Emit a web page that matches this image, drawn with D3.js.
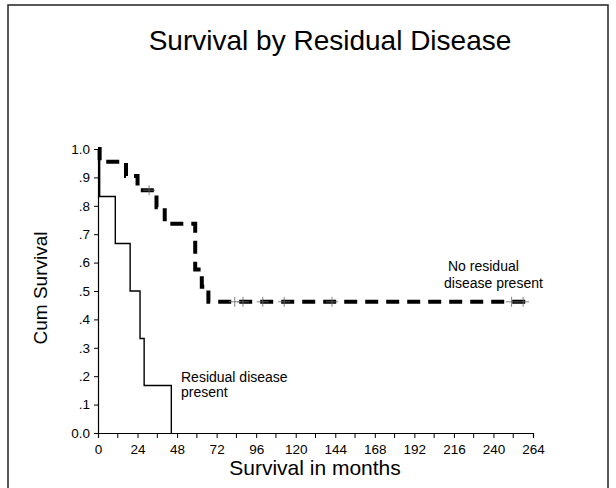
<html>
  <head>
    <script src="https://cdn.jsdelivr.net/npm/d3@7"></script>
    <style>
      * {
        margin: 0;
        padding: 0;
      }
      body {
        background: white;
        font-family: "Liberation Sans", Arial, sans-serif;
      }
      .tick-label {
        font-size: 13.5px;
      }
    </style>
  </head>
  <body>
    <div id="chart"></div>
    <script>
      // data
      const title = "Survival by Residual Disease";
      const xTitle = "Survival in months";
      const yTitle = "Cum Survival";

      const xMajorTicks = [0, 24, 48, 72, 96, 120, 144, 168, 192, 216, 240, 264];
      const xMinorTicks = [12, 36, 60, 84, 108, 132, 156, 180, 204, 228, 252];
      const yTicks = [0, 0.1, 0.2, 0.3, 0.4, 0.5, 0.6, 0.7, 0.8, 0.9, 1.0];
      const yTickLabels = ["0.0", ".1", ".2", ".3", ".4", ".5", ".6", ".7", ".8", ".9", "1.0"];

      // residual disease present (thin solid)
      const residualTimes = [0, 1, 10.5, 19.5, 25.5, 28, 44.5];
      const residualSurv = [1, 0.833, 0.667, 0.5, 0.333, 0.167, 0];
      const residualEnd = 44.5;

      // no residual disease (thick dashed)
      const noResTimes = [0, 1, 17, 24, 35.5, 40.5, 59, 63, 67];
      const noResSurv = [1, 0.955, 0.905, 0.855, 0.795, 0.737, 0.576, 0.515, 0.462];
      const noResEnd = 262;
      const noResCensored = [31, 83, 88, 100, 113, 142, 251, 258];

      const w = 616;
      const h = 488;

      const svg = d3
        .select("#chart")
        .append("svg")
        .attr("width", w)
        .attr("height", h);

      svg
        .append("rect")
        .attr("width", w)
        .attr("height", h)
        .attr("fill", "white");

      // outer frame (bottom edge falls outside the picture)
      svg
        .append("rect")
        .attr("x", 8)
        .attr("y", 5)
        .attr("width", 600)
        .attr("height", 500)
        .attr("fill", "none")
        .attr("stroke", "#222")
        .attr("stroke-width", 1.5);

      const xScale = d3.scaleLinear().domain([0, 264]).range([98, 533]);
      const yScale = d3.scaleLinear().domain([0, 1]).range([433, 149]);

      svg
        .append("text")
        .attr("x", 330)
        .attr("y", 50)
        .attr("text-anchor", "middle")
        .attr("font-size", 28)
        .text(title);

      // x axis
      const xAxis = d3
        .axisBottom(xScale)
        .tickValues(xMajorTicks)
        .tickSize(5)
        .tickPadding(6)
        .tickFormat(d3.format("d"));
      const gx = svg
        .append("g")
        .attr("transform", "translate(0,433)")
        .call(xAxis);
      gx.selectAll("text").attr("class", "tick-label").attr("font-size", null).attr("font-family", null);
      gx.select(".domain").attr("stroke-width", 1.2);

      gx.selectAll(".minor")
        .data(xMinorTicks)
        .enter()
        .append("line")
        .attr("class", "minor")
        .attr("x1", (d) => xScale(d))
        .attr("x2", (d) => xScale(d))
        .attr("y1", 0)
        .attr("y2", 5)
        .attr("stroke", "black");

      // y axis
      const yAxis = d3
        .axisLeft(yScale)
        .tickValues(yTicks)
        .tickSize(4)
        .tickPadding(4)
        .tickFormat((d, i) => yTickLabels[i]);
      const gy = svg
        .append("g")
        .attr("transform", "translate(98,0)")
        .call(yAxis);
      gy.selectAll("text").attr("class", "tick-label").attr("font-size", null).attr("font-family", null);
      gy.select(".domain").attr("stroke-width", 1.2);

      svg
        .append("text")
        .attr("x", 315)
        .attr("y", 475)
        .attr("text-anchor", "middle")
        .attr("font-size", 21)
        .text(xTitle);

      svg
        .append("text")
        .attr("transform", "translate(47,288) rotate(-90)")
        .attr("text-anchor", "middle")
        .attr("font-size", 19)
        .text(yTitle);

      const line = d3
        .line()
        .x((d) => xScale(d[0]))
        .y((d) => yScale(d[1]))
        .curve(d3.curveStepAfter);

      const residualPts = residualTimes.map((t, i) => [t, residualSurv[i]]);
      residualPts.push([residualEnd, residualSurv[residualSurv.length - 1]]);
      svg
        .append("path")
        .attr("d", line(residualPts))
        .attr("fill", "none")
        .attr("stroke", "black")
        .attr("stroke-width", 1.4);

      const noResPts = noResTimes.map((t, i) => [t, noResSurv[i]]);
      noResPts.push([noResEnd, noResSurv[noResSurv.length - 1]]);
      svg
        .append("path")
        .attr("d", line(noResPts))
        .attr("fill", "none")
        .attr("stroke", "black")
        .attr("stroke-width", 4)
        .attr("stroke-dasharray", "13,8");

      // censored marks
      const survAt = (t) => {
        let s = 1;
        noResTimes.forEach((tt, i) => {
          if (tt <= t) s = noResSurv[i];
        });
        return s;
      };
      const marks = svg.append("g");
      noResCensored.forEach((t) => {
        const cx = xScale(t);
        const cy = yScale(survAt(t));
        marks
          .append("line")
          .attr("x1", cx)
          .attr("x2", cx)
          .attr("y1", cy - 5)
          .attr("y2", cy + 5)
          .attr("stroke", "#666")
          .attr("stroke-width", 0.8);
        marks
          .append("line")
          .attr("x1", cx - 6)
          .attr("x2", cx + 6)
          .attr("y1", cy)
          .attr("y2", cy)
          .attr("stroke", "#666")
          .attr("stroke-width", 0.8);
      });

      // annotations
      const ann = [
        { x: 448, y: 271, t: "No residual" },
        { x: 444, y: 288, t: "disease present" },
        { x: 181, y: 382, t: "Residual disease" },
        { x: 181, y: 397, t: "present" },
      ];
      svg
        .selectAll(".ann")
        .data(ann)
        .enter()
        .append("text")
        .attr("class", "ann")
        .attr("x", (d) => d.x)
        .attr("y", (d) => d.y)
        .attr("font-size", 14)
        .text((d) => d.t);
    </script>
  </body>
</html>
